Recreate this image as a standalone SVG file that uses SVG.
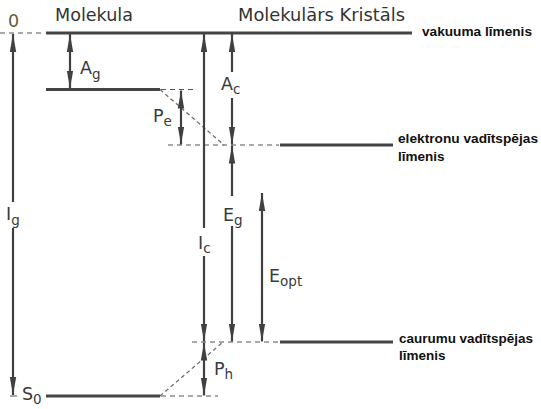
<svg xmlns="http://www.w3.org/2000/svg" width="541" height="409" viewBox="0 0 541 409">
<defs>
<marker id="ah" viewBox="0 0 18 8" refX="18" refY="4" markerWidth="18" markerHeight="8" markerUnits="userSpaceOnUse" orient="auto-start-reverse">
<path d="M0,0.8 L18,4 L0,7.2 Z" fill="#404040"/>
</marker>
<style>
.lvl{stroke:#444;stroke-width:3;fill:none}
.dash{stroke:#555;stroke-width:1.2;stroke-dasharray:5 4;fill:none}
.diag{stroke:#666;stroke-width:1.2;stroke-dasharray:4 3;fill:none}
.arr{stroke:#404040;stroke-width:2.2;fill:none;marker-start:url(#ah);marker-end:url(#ah)}
.seg{stroke:#404040;stroke-width:2.2;fill:none}
.title{font-family:"DejaVu Sans",sans-serif;font-size:17.5px;fill:#333}
.lab{font-family:"DejaVu Sans",sans-serif;font-size:17.5px;fill:#3a3a3a}
.sub{font-size:13.5px}
.note{font-family:"Liberation Sans",Arial,sans-serif;font-weight:bold;font-size:13.5px;fill:#111}
</style>
</defs>
<rect width="541" height="409" fill="#fff"/>
<g id="titles">
<text class="title" x="55" y="21" textLength="78" lengthAdjust="spacingAndGlyphs">Molekula</text>
<text class="title" x="238" y="21" textLength="167" lengthAdjust="spacingAndGlyphs">Molekulārs Kristāls</text>
</g>
<g id="vacuum">
<line class="dash" x1="0" y1="33" x2="45" y2="33"/>
<line class="lvl" x1="46" y1="33" x2="412" y2="33"/>
<text class="lab" x="8" y="27" style="fill:#6b5a35">0</text>
<text class="note" x="422" y="36" textLength="110" lengthAdjust="spacingAndGlyphs">vakuuma līmenis</text>
</g>
<g id="mol-lumo">
<line class="lvl" x1="46" y1="89.5" x2="160" y2="89.5"/>
</g>
<g id="mol-s0">
<line class="lvl" x1="46" y1="396" x2="160" y2="396"/>
<text class="lab" x="22" y="400">S<tspan class="sub" dy="4">0</tspan></text>
</g>
<g id="electron-level">
<line class="lvl" x1="280" y1="145" x2="393" y2="145"/>
<text class="note" x="398" y="143" textLength="140" lengthAdjust="spacingAndGlyphs">elektronu vadītspējas</text>
<text class="note" x="398" y="161">līmenis</text>
</g>
<g id="hole-level">
<line class="lvl" x1="280" y1="342" x2="393" y2="342"/>
<text class="note" x="399" y="343" textLength="134" lengthAdjust="spacingAndGlyphs">caurumu vadītspējas</text>
<text class="note" x="399" y="360">līmenis</text>
</g>
<g id="connectors">
<line class="dash" x1="161" y1="89.5" x2="194" y2="89.5"/>
<line class="dash" x1="168" y1="145" x2="279" y2="145"/>
<line class="dash" x1="192" y1="342" x2="279" y2="342"/>
<line class="dash" x1="161" y1="396" x2="218" y2="396"/>
<line class="diag" x1="160" y1="89.5" x2="224" y2="145"/>
<line class="diag" x1="160" y1="396" x2="223" y2="342"/>
<line class="seg" x1="13" y1="34" x2="13" y2="202" marker-start="url(#ah)"/>
<line class="seg" x1="13" y1="228" x2="13" y2="395" marker-end="url(#ah)"/>
<line stroke="#555" stroke-width="1" x1="10" y1="396" x2="17" y2="396"/>
<line class="arr" x1="70" y1="34" x2="70" y2="88.5"/>
<line class="arr" x1="181" y1="90.5" x2="181" y2="144.5"/>
<line class="seg" x1="204" y1="34" x2="204" y2="228" marker-start="url(#ah)"/>
<line class="seg" x1="204" y1="256" x2="204" y2="341.5" marker-end="url(#ah)"/>
<line class="arr" x1="204" y1="342.5" x2="204" y2="395.5"/>
<line class="seg" x1="232" y1="34" x2="232" y2="72" marker-start="url(#ah)"/>
<line class="seg" x1="232" y1="98" x2="232" y2="144.5" marker-end="url(#ah)"/>
<line class="seg" x1="232" y1="145.5" x2="232" y2="196" marker-start="url(#ah)"/>
<line class="seg" x1="232" y1="226" x2="232" y2="341.5" marker-end="url(#ah)"/>
<line class="arr" x1="262" y1="193" x2="262" y2="341.5"/>
</g>
<g id="labels">
<text class="lab" x="80" y="74">A<tspan class="sub" dy="5">g</tspan></text>
<text class="lab" x="153" y="122">P<tspan class="sub" dy="4">e</tspan></text>
<text class="lab" x="221" y="90">A<tspan class="sub" dy="4">c</tspan></text>
<text class="lab" x="223" y="221">E<tspan class="sub" dy="4">g</tspan></text>
<text class="lab" x="198" y="249">I<tspan class="sub" dy="4">c</tspan></text>
<text class="lab" x="6" y="220">I<tspan class="sub" dy="5">g</tspan></text>
<text class="lab" x="269" y="282">E<tspan class="sub" dy="4">opt</tspan></text>
<text class="lab" x="214" y="375">P<tspan class="sub" dy="4">h</tspan></text>
</g>
</svg>
